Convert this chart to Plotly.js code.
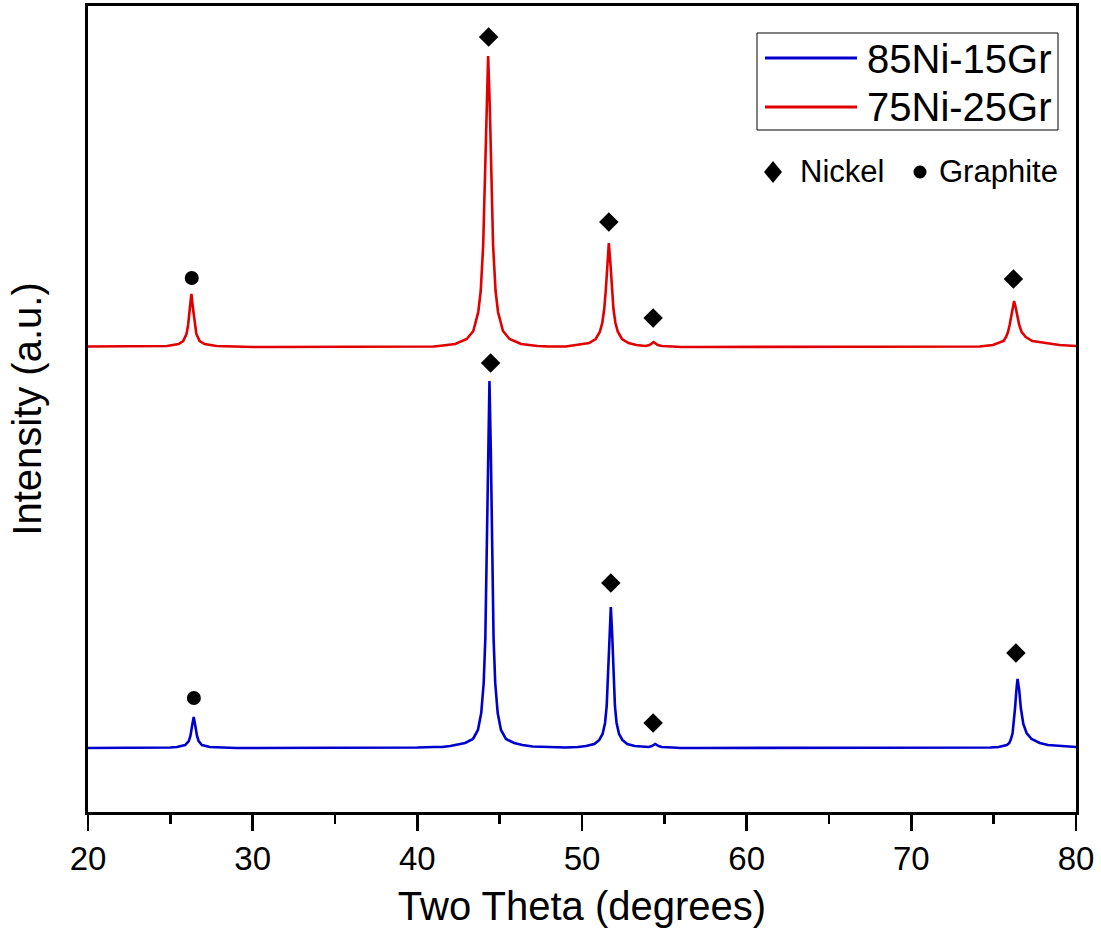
<!DOCTYPE html>
<html>
<head>
<meta charset="utf-8">
<script src="https://cdn.plot.ly/plotly-3.0.1.min.js"></script>
<style>html,body{margin:0;padding:0;background:#fff;}#chart{width:1101px;height:940px;}</style>
</head>
<body>
<div id="chart"></div>
<script>
// Two-theta positions (degrees) and intensity (a.u.)
const blueX = [20,21,22,23,24,25,25.4,25.9,26.12,26.22,26.32,26.42,26.52,26.62,26.72,26.92,27.4,28,29,30,31,32,33,34,35,36,37,38,39,40,41,41.5,42,42.4,42.9,43.38,43.68,43.88,44.03,44.13,44.23,44.30,44.38,44.46,44.53,44.63,44.73,44.88,45.08,45.38,45.88,46.38,47,48,49,49.75,50.25,50.75,51.05,51.25,51.40,51.50,51.60,51.67,51.75,51.83,51.90,52.00,52.10,52.25,52.45,52.75,53.2,53.75,54.05,54.25,54.45,54.65,54.85,55.5,56,57,58,59,60,61,62,63,64,65,66,67,68,69,70,71,72,73,73.5,74.3,74.8,75.3,75.6,75.8,75.95,76.05,76.15,76.22,76.30,76.38,76.45,76.55,76.65,76.80,77.0,77.3,77.8,78.3,79,80];
const blueY = [64,64,64,64,64,64.5,65,67,71,76,86,95,86,76,71,67,65,64.5,64,64,64,64,64,64,64,64,64,64,64,64.5,65,65,66,67,69,73,82,99,129,174,264,364,431,364,264,174,129,99,82,73,69,67,65.5,65,64.5,65,66,68,72,78,89,106,142,179,205,179,142,106,89,78,72,68,66,65,65,66,68,66,65,64.5,64,64,64,64,64,64,64,64,64,64,64,64,64,64,64,64,64,64,64,64,64.5,65,66,67,69,73,79,88,104,122,133,122,104,88,79,73,69,67,66,65,64,64];

const redX = [20,21,22,23,24,24.8,25.5,25.78,25.98,26.08,26.18,26.28,26.38,26.48,26.58,26.78,27.08,27.8,28.5,29,30,31,32,33,34,35,36,37,38,39,40,41,41.3,42.3,43.0,43.4,43.7,43.85,44.0,44.1,44.2,44.3,44.4,44.5,44.6,44.75,44.9,45.2,45.6,46.3,47.3,48,49,49.63,50.43,50.83,51.08,51.23,51.35,51.45,51.54,51.63,51.72,51.81,51.91,52.03,52.18,52.43,52.83,53.3,53.85,54.1,54.35,54.6,54.85,55.5,56,57,58,59,60,61,62,63,64,65,66,67,68,69,70,71,72,73,74.15,74.95,75.35,75.6,75.75,75.87,75.97,76.06,76.15,76.24,76.33,76.43,76.55,76.70,76.95,77.35,78.15,79,80];
const redY = [64.5,64.5,64.5,64.5,64.5,65,67,70,77,86,102,117,102,86,77,70,67,65,64.5,64,64,64,64,64,64,64,64,64,64,64,64,64.5,65,67,72,80,99,120,166,223,305,355,305,223,166,120,99,80,72,67,65,64.5,64.5,66,68,72,79,88,102,122,149,168,149,122,102,88,79,72,68,66,65,66,69,66,65,64.5,64,64,64,64,64,64,64,64,64,64,64,64,64,64,64,64,64,64,64.5,66,68,70,74,79,86,95,104,110,104,95,86,79,74,70,68,66,65,64];

const redOffset = 401;   // vertical stacking offset of the 75Ni-25Gr pattern

// Phase markers (two-theta, plotted height)
const nickelX = [44.33, 51.63, 54.32, 76.2, 44.45, 51.75, 54.32, 76.35];
const nickelY = [775, 590, 494, 533, 449, 229, 89, 159];
const graphiteX = [26.3, 26.43];
const graphiteY = [534, 114];

const seriesNames = ['85Ni-15Gr', '75Ni-25Gr'];
const xTickVals = [20, 30, 40, 50, 60, 70, 80];

const FONT = 'Liberation Sans, Arial, sans-serif';
const BLUE = '#0000cd';
const RED = '#e00000';

const traces = [
  {x: blueX, y: blueY, type: 'scatter', mode: 'lines', name: seriesNames[0],
   line: {color: BLUE, width: 2.6}, showlegend: false},
  {x: redX, y: redY.map(v => v + redOffset), type: 'scatter', mode: 'lines', name: seriesNames[1],
   line: {color: RED, width: 2.6}, showlegend: false},
  {x: nickelX, y: nickelY, type: 'scatter', mode: 'markers', name: 'Nickel',
   marker: {symbol: 'diamond', size: 15, color: '#000'}, showlegend: false},
  {x: graphiteX, y: graphiteY, type: 'scatter', mode: 'markers', name: 'Graphite',
   marker: {symbol: 'circle', size: 14, color: '#000'}, showlegend: false}
];

// paper-coordinate helpers for legend decoration (plot area 88..1076 x 6..812)
const px = v => (v - 88) / 988;
const py = v => (812 - v) / 806;

const shapes = [
  {type: 'rect', xref: 'paper', yref: 'paper', x0: px(757), x1: px(1058), y0: py(130), y1: py(33),
   line: {color: '#000', width: 1}, fillcolor: 'rgba(0,0,0,0)'},
  {type: 'line', xref: 'paper', yref: 'paper', x0: px(765), x1: px(857), y0: py(58), y1: py(58),
   line: {color: BLUE, width: 3}},
  {type: 'line', xref: 'paper', yref: 'paper', x0: px(765), x1: px(857), y0: py(107), y1: py(107),
   line: {color: RED, width: 3}},
  {type: 'path', xref: 'paper', yref: 'paper',
   path: 'M' + px(773) + ',' + py(161) + ' L' + px(782) + ',' + py(172) + ' L' + px(773) + ',' + py(183) + ' L' + px(764) + ',' + py(172) + ' Z',
   fillcolor: '#000', line: {color: '#000', width: 0}},
  {type: 'circle', xref: 'paper', yref: 'paper', x0: px(913.5), x1: px(926.5), y0: py(178.5), y1: py(165.5),
   fillcolor: '#000', line: {color: '#000', width: 0}}
];

const annotations = [
  {xref: 'paper', yref: 'paper', x: px(865), y: py(59), xanchor: 'left', yanchor: 'middle',
   text: seriesNames[0], showarrow: false, font: {family: FONT, size: 40, color: '#000'}},
  {xref: 'paper', yref: 'paper', x: px(865), y: py(107), xanchor: 'left', yanchor: 'middle',
   text: seriesNames[1], showarrow: false, font: {family: FONT, size: 40, color: '#000'}},
  {xref: 'paper', yref: 'paper', x: px(798), y: py(172), xanchor: 'left', yanchor: 'middle',
   text: 'Nickel', showarrow: false, font: {family: FONT, size: 31, color: '#000'}},
  {xref: 'paper', yref: 'paper', x: px(937), y: py(172), xanchor: 'left', yanchor: 'middle',
   text: 'Graphite', showarrow: false, font: {family: FONT, size: 31, color: '#000'}}
];

const layout = {
  width: 1101, height: 940,
  margin: {l: 88, r: 25, t: 6, b: 128},
  paper_bgcolor: '#fff', plot_bgcolor: '#fff',
  font: {family: FONT, color: '#000'},
  showlegend: false,
  xaxis: {
    range: [20, 80], tickvals: xTickVals, ticks: 'outside', ticklen: 16, tickwidth: 2.5, tickcolor: '#000',
    ticklabelstandoff: 0,
    minor: {dtick: 5, tick0: 20, ticks: 'outside', ticklen: 9, tickwidth: 2.5, tickcolor: '#000', showgrid: false},
    showline: true, mirror: true, linecolor: '#000', linewidth: 2.8,
    showgrid: false, zeroline: false,
    tickfont: {family: FONT, size: 33, color: '#000'},
    title: {text: 'Two Theta (degrees)', font: {family: FONT, size: 40, color: '#000'}, standoff: 16}
  },
  yaxis: {
    range: [0, 806], showticklabels: false, ticks: '',
    showline: true, mirror: true, linecolor: '#000', linewidth: 2.8,
    showgrid: false, zeroline: false,
    title: {text: 'Intensity (a.u.)', font: {family: FONT, size: 40, color: '#000'}, standoff: 32}
  },
  shapes: shapes,
  annotations: annotations
};

Plotly.newPlot('chart', traces, layout, {displayModeBar: false, staticPlot: true});
</script>
</body>
</html>
